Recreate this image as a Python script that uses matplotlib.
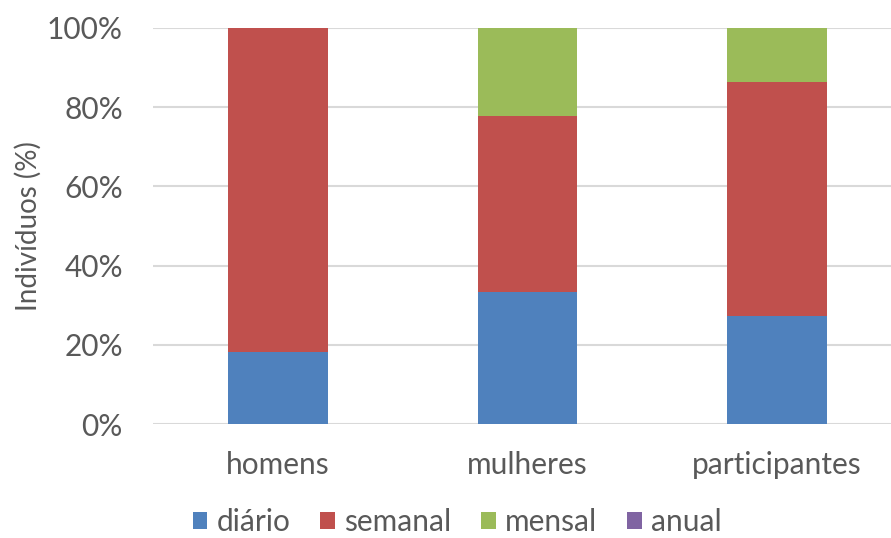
import matplotlib.pyplot as plt
import numpy as np

categorias = ['homens', 'mulheres', 'participantes']
series = ['diário', 'semanal', 'mensal', 'anual']
diario = [18.2, 33.3, 27.3]
semanal = [81.8, 44.4, 59.1]
mensal = [0.0, 22.3, 13.6]
anual = [0.0, 0.0, 0.0]
cores = ['#4F81BD', '#C0504D', '#9BBB59', '#8064A2']

plt.rcParams['font.family'] = ['Lato', 'DejaVu Sans']

fig = plt.figure(figsize=(8.91, 5.38), dpi=100)
ax = fig.add_axes([153 / 891, 1 - 424 / 538, (891 - 153) / 891, (424 - 28) / 538])

x = np.arange(len(categorias))
base = np.zeros(len(categorias))
for nome, vals, cor in zip(series, [diario, semanal, mensal, anual], cores):
    ax.bar(x, vals, 0.4, bottom=base, color=cor, label=nome, zorder=3)
    base += np.array(vals)

ax.set_ylim(0, 100)
ax.set_xlim(-0.5, 2.5 - 11 / 250)
ax.set_yticks(range(0, 101, 20))
ax.set_yticklabels([f'{v}%' for v in range(0, 101, 20)])
ax.set_xticks(x)
ax.set_xticklabels(categorias)
ax.grid(axis='y', color='#D9D9D9', linewidth=1.5, zorder=0)
for s in ax.spines.values():
    s.set_visible(False)
ax.tick_params(length=0, labelsize=21.5, colors='#595959')
ax.tick_params(axis='y', pad=21.6)
ax.tick_params(axis='x', pad=19.5)
ax.set_ylabel('Indivíduos (%)', fontsize=20, color='#595959', labelpad=4)

fig.legend(loc='center', bbox_to_anchor=(457 / 891, 1 - 522 / 538), ncol=4,
           frameon=False, fontsize=21.5, labelcolor='#595959', handlelength=0.5,
           handleheight=0.5, handletextpad=0.3, columnspacing=1.0,
           borderpad=0.2)

fig.savefig('out.png', dpi=100)
